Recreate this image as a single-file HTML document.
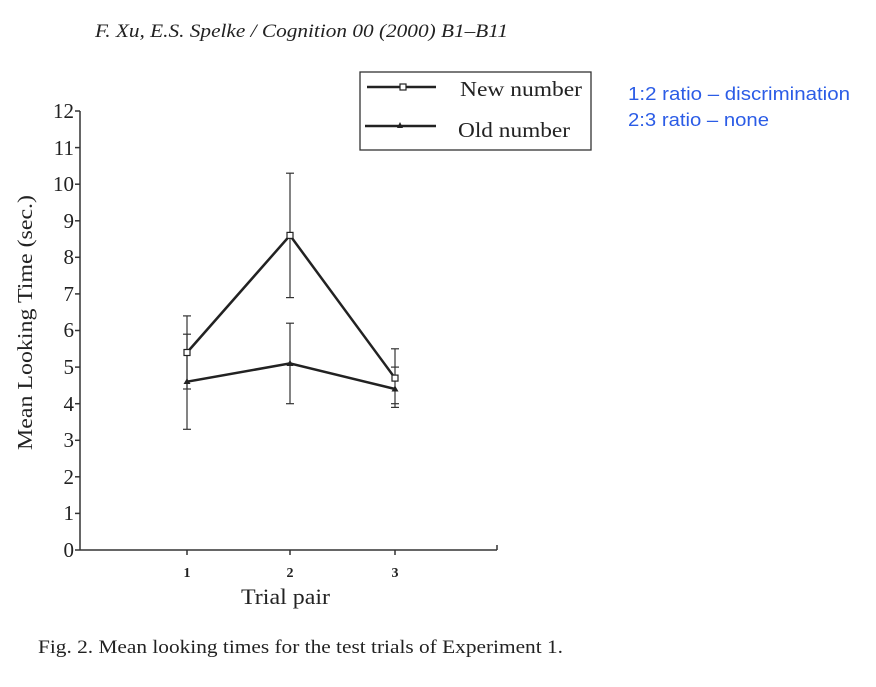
<!DOCTYPE html>
<html><head><style>
body{margin:0;background:#fff;}
svg text{font-family:"Liberation Serif",serif;fill:#222;}
</style></head><body>
<svg width="876" height="682" viewBox="0 0 876 682" xmlns="http://www.w3.org/2000/svg">
<text x="95" y="37" font-size="19" font-style="italic" textLength="413" lengthAdjust="spacingAndGlyphs">F. Xu, E.S. Spelke / Cognition 00 (2000) B1–B11</text>
<g stroke="#333" stroke-width="1.5" fill="none">
<line x1="80" y1="111" x2="80" y2="550"/>
<line x1="80" y1="550" x2="497" y2="550"/>
<line x1="497" y1="550" x2="497" y2="545"/>
<line x1="187" y1="550" x2="187" y2="555"/>
<line x1="290" y1="550" x2="290" y2="555"/>
<line x1="395" y1="550" x2="395" y2="555"/>
<line x1="75" y1="550" x2="80" y2="550"/><line x1="75" y1="513.4" x2="80" y2="513.4"/>
<line x1="75" y1="476.8" x2="80" y2="476.8"/><line x1="75" y1="440.3" x2="80" y2="440.3"/>
<line x1="75" y1="403.7" x2="80" y2="403.7"/><line x1="75" y1="367.1" x2="80" y2="367.1"/>
<line x1="75" y1="330.5" x2="80" y2="330.5"/><line x1="75" y1="293.9" x2="80" y2="293.9"/>
<line x1="75" y1="257.3" x2="80" y2="257.3"/><line x1="75" y1="220.8" x2="80" y2="220.8"/>
<line x1="75" y1="184.2" x2="80" y2="184.2"/><line x1="75" y1="147.6" x2="80" y2="147.6"/>
<line x1="75" y1="111" x2="80" y2="111"/>
</g>
<g font-size="21" text-anchor="end">
<text x="74" y="557">0</text><text x="74" y="520">1</text><text x="74" y="484">2</text>
<text x="74" y="447">3</text><text x="74" y="411">4</text><text x="74" y="374">5</text>
<text x="74" y="337">6</text><text x="74" y="301">7</text><text x="74" y="264">8</text>
<text x="74" y="228">9</text><text x="74" y="191">10</text><text x="74" y="155">11</text>
<text x="74" y="118">12</text>
</g>
<g font-size="14" font-weight="bold" text-anchor="middle">
<text x="187" y="577">1</text><text x="290" y="577">2</text><text x="395" y="577">3</text>
</g>
<text x="241" y="604" font-size="22" textLength="89" lengthAdjust="spacingAndGlyphs">Trial pair</text>
<text transform="translate(32,450) rotate(-90)" font-size="21" textLength="255" lengthAdjust="spacingAndGlyphs">Mean Looking Time (sec.)</text>
<g stroke="#333" stroke-width="1.2">
<line x1="187" y1="315.9" x2="187" y2="389"/><line x1="183" y1="315.9" x2="191" y2="315.9"/><line x1="183" y1="389" x2="191" y2="389"/>
<line x1="187" y1="334.2" x2="187" y2="429.3"/><line x1="183" y1="334.2" x2="191" y2="334.2"/><line x1="183" y1="429.3" x2="191" y2="429.3"/>
<line x1="290" y1="173.2" x2="290" y2="297.6"/><line x1="286" y1="173.2" x2="294" y2="173.2"/><line x1="286" y1="297.6" x2="294" y2="297.6"/>
<line x1="290" y1="323.2" x2="290" y2="403.7"/><line x1="286" y1="323.2" x2="294" y2="323.2"/><line x1="286" y1="403.7" x2="294" y2="403.7"/>
<line x1="395" y1="348.8" x2="395" y2="407.4"/><line x1="391" y1="348.8" x2="399" y2="348.8"/><line x1="391" y1="407.4" x2="399" y2="407.4"/>
<line x1="391" y1="367.1" x2="399" y2="367.1"/><line x1="391" y1="403.7" x2="399" y2="403.7"/>
</g>
<g stroke="#222" stroke-width="2.5" fill="none">
<polyline points="187,352.5 290,235.4 395,378.1"/>
<polyline points="187,381.7 290,363.4 395,389"/>
</g>
<g fill="#fff" stroke="#222" stroke-width="1.2">
<rect x="184" y="349.5" width="6" height="6"/><rect x="287" y="232.4" width="6" height="6"/><rect x="392" y="375.1" width="6" height="6"/>
</g>
<g fill="#222">
<polygon points="187,378.2 183.5,384 190.5,384"/><polygon points="290,360 286.5,366 293.5,366"/><polygon points="395,385.5 391.5,391.5 398.5,391.5"/>
</g>
<rect x="360" y="72" width="231" height="78" fill="none" stroke="#333" stroke-width="1.3"/>
<line x1="367" y1="87" x2="436" y2="87" stroke="#222" stroke-width="2.5"/>
<rect x="400" y="84" width="6" height="6" fill="#fff" stroke="#222" stroke-width="1.2"/>
<line x1="365" y1="126" x2="436" y2="126" stroke="#222" stroke-width="2.5"/>
<polygon points="400,122 397,128 403,128" fill="#222"/>
<text x="460" y="96" font-size="21" textLength="122" lengthAdjust="spacingAndGlyphs">New number</text>
<text x="458" y="137" font-size="21" textLength="112" lengthAdjust="spacingAndGlyphs">Old number</text>
<text x="628" y="100" font-size="18" textLength="222" lengthAdjust="spacingAndGlyphs" style="font-family:'Liberation Sans',sans-serif;fill:#2b5ce6">1:2 ratio – discrimination</text>
<text x="628" y="126" font-size="18" textLength="141" lengthAdjust="spacingAndGlyphs" style="font-family:'Liberation Sans',sans-serif;fill:#2b5ce6">2:3 ratio – none</text>
<text x="38" y="653" font-size="19" textLength="525" lengthAdjust="spacingAndGlyphs">Fig. 2.  Mean looking times for the test trials of Experiment 1.</text>
</svg>
</body></html>
